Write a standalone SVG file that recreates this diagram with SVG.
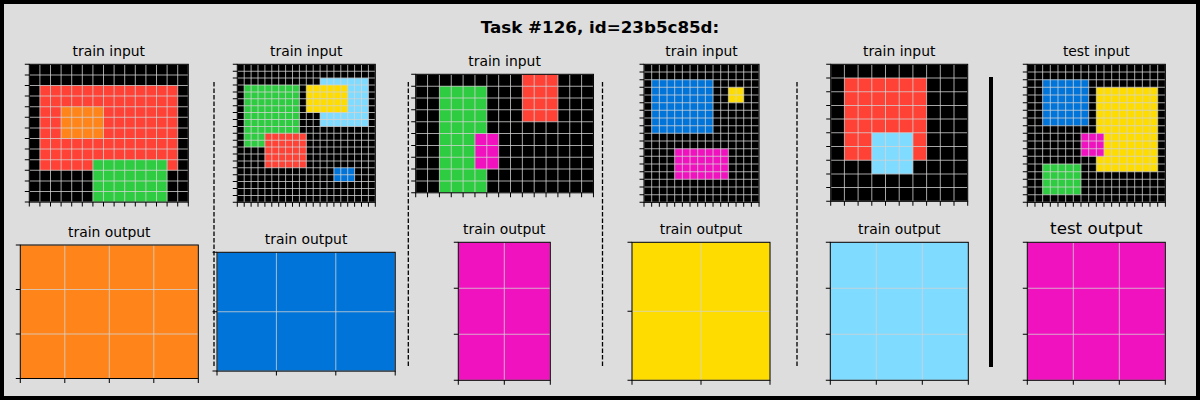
<svg xmlns="http://www.w3.org/2000/svg" width="1200" height="400" viewBox="0 0 1200 400">
<style>
text{font-family:"DejaVu Sans","Liberation Sans",sans-serif;fill:#000;text-anchor:middle}
.t{font-size:13.9px}
.tt{font-size:16.7px}
.h{font-size:16.7px;font-weight:bold}
.gl{stroke:#d3d3d3;stroke-opacity:0.78;fill:none}
.tk{stroke:#000;fill:none;stroke-width:4.5}
.sp{fill:none;stroke:#000;stroke-width:1}
.sep{stroke:#000;stroke-width:1.3;stroke-dasharray:4.5 2;fill:none}
</style>
<rect x="2" y="2" width="1196" height="396" fill="#dddddd" stroke="#000" stroke-width="4"/>
<text class="h" x="600" y="33">Task #126, id=23b5c85d:</text>

<g id="connectors">
<line class="sep" x1="214" y1="82" x2="214" y2="368"/>
<line class="sep" x1="408.3" y1="82" x2="408.3" y2="367"/>
<line class="sep" x1="602.5" y1="82" x2="602.5" y2="367"/>
<line class="sep" x1="797" y1="82" x2="797" y2="367"/>
<line x1="991" y1="77" x2="991" y2="367" stroke="#000" stroke-width="4"/>
</g>

<g id="train1-input">
<text class="t" x="108.8" y="56">train input</text>
<rect x="29.3" y="64.3" width="159" height="137.8" fill="#000"/>
<rect x="39.9" y="85.5" width="137.8" height="84.8" fill="#FF4136"/>
<rect x="61.1" y="106.7" width="42.4" height="31.8" fill="#FF851B"/>
<rect x="92.9" y="159.7" width="74.2" height="42.4" fill="#2ECC40"/>
<line class="gl" x1="28.8" y1="133.2" x2="188.8" y2="133.2" stroke-width="137.8" stroke-dasharray="1 9.6"/>
<line class="gl" x1="108.8" y1="63.8" x2="108.8" y2="202.6" stroke-width="159" stroke-dasharray="1 9.6"/>
<rect class="sp" x="29.3" y="64.3" width="159" height="137.8"/>
<line class="tk" x1="27.05" y1="63.8" x2="27.05" y2="202.6" stroke-dasharray="1 9.6"/>
<line class="tk" x1="28.8" y1="204.35" x2="188.8" y2="204.35" stroke-dasharray="1 9.6"/>
</g>

<g id="train1-output">
<text class="t" x="109.3" y="236.7">train output</text>
<rect x="20.3" y="245" width="178" height="133.5" fill="#FF851B"/>
<line class="gl" x1="19.8" y1="311.75" x2="198.8" y2="311.75" stroke-width="133.5" stroke-dasharray="1 43.5"/>
<line class="gl" x1="109.3" y1="244.5" x2="109.3" y2="379" stroke-width="178" stroke-dasharray="1 43.5"/>
<rect class="sp" x="20.3" y="245" width="178" height="133.5"/>
<line class="tk" x1="18.05" y1="244.5" x2="18.05" y2="379" stroke-dasharray="1 43.5"/>
<line class="tk" x1="19.8" y1="380.75" x2="198.8" y2="380.75" stroke-dasharray="1 43.5"/>
</g>

<g id="train2-input">
<text class="t" x="306.3" y="56">train input</text>
<rect x="237.3" y="64.3" width="138" height="138" fill="#000"/>
<rect x="244.2" y="85" width="55.2" height="62.1" fill="#2ECC40"/>
<rect x="264.9" y="133.3" width="41.4" height="34.5" fill="#FF4136"/>
<rect x="320.1" y="78.1" width="48.3" height="48.3" fill="#7FDBFF"/>
<rect x="306.3" y="85" width="41.4" height="27.6" fill="#FFDC00"/>
<rect x="333.9" y="167.8" width="20.7" height="13.8" fill="#0074D9"/>
<line class="gl" x1="236.8" y1="133.3" x2="375.8" y2="133.3" stroke-width="138" stroke-dasharray="1 5.9"/>
<line class="gl" x1="306.3" y1="63.8" x2="306.3" y2="202.8" stroke-width="138" stroke-dasharray="1 5.9"/>
<rect class="sp" x="237.3" y="64.3" width="138" height="138"/>
<line class="tk" x1="235.05" y1="63.8" x2="235.05" y2="202.8" stroke-dasharray="1 5.9"/>
<line class="tk" x1="236.8" y1="204.55" x2="375.8" y2="204.55" stroke-dasharray="1 5.9"/>
</g>

<g id="train2-output">
<text class="t" x="306.1" y="244">train output</text>
<rect x="217" y="252.3" width="178.2" height="118.8" fill="#0074D9"/>
<line class="gl" x1="216.5" y1="311.7" x2="395.7" y2="311.7" stroke-width="118.8" stroke-dasharray="1 58.4"/>
<line class="gl" x1="306.1" y1="251.8" x2="306.1" y2="371.6" stroke-width="178.2" stroke-dasharray="1 58.4"/>
<rect class="sp" x="217" y="252.3" width="178.2" height="118.8"/>
<line class="tk" x1="214.75" y1="251.8" x2="214.75" y2="371.6" stroke-dasharray="1 58.4"/>
<line class="tk" x1="216.5" y1="373.35" x2="395.7" y2="373.35" stroke-dasharray="1 58.4"/>
</g>

<g id="train3-input">
<text class="t" x="504.6" y="66">train input</text>
<rect x="415.7" y="74.3" width="177.75" height="118.5" fill="#000"/>
<rect x="439.4" y="86.15" width="47.4" height="106.65" fill="#2ECC40"/>
<rect x="474.95" y="133.55" width="23.7" height="35.55" fill="#F012BE"/>
<rect x="522.35" y="74.3" width="35.55" height="47.4" fill="#FF4136"/>
<line class="gl" x1="415.2" y1="133.55" x2="593.95" y2="133.55" stroke-width="118.5" stroke-dasharray="1 10.85"/>
<line class="gl" x1="504.575" y1="73.8" x2="504.575" y2="193.3" stroke-width="177.75" stroke-dasharray="1 10.85"/>
<rect class="sp" x="415.7" y="74.3" width="177.75" height="118.5"/>
<line class="tk" x1="413.45" y1="73.8" x2="413.45" y2="193.3" stroke-dasharray="1 10.85"/>
<line class="tk" x1="415.2" y1="195.05" x2="593.95" y2="195.05" stroke-dasharray="1 10.85"/>
</g>

<g id="train3-output">
<text class="t" x="504.3" y="234">train output</text>
<rect x="458.3" y="242.3" width="92" height="138" fill="#F012BE"/>
<line class="gl" x1="457.8" y1="311.3" x2="550.8" y2="311.3" stroke-width="138" stroke-dasharray="1 45"/>
<line class="gl" x1="504.3" y1="241.8" x2="504.3" y2="380.8" stroke-width="92" stroke-dasharray="1 45"/>
<rect class="sp" x="458.3" y="242.3" width="92" height="138"/>
<line class="tk" x1="456.05" y1="241.8" x2="456.05" y2="380.8" stroke-dasharray="1 45"/>
<line class="tk" x1="457.8" y1="382.55" x2="550.8" y2="382.55" stroke-dasharray="1 45"/>
</g>

<g id="train4-input">
<text class="t" x="701.5" y="56">train input</text>
<rect x="644" y="64.3" width="115.05" height="138.06" fill="#000"/>
<rect x="651.67" y="79.64" width="61.36" height="53.69" fill="#0074D9"/>
<rect x="728.37" y="87.31" width="15.34" height="15.34" fill="#FFDC00"/>
<rect x="674.68" y="148.67" width="53.69" height="30.68" fill="#F012BE"/>
<line class="gl" x1="643.5" y1="133.33" x2="759.55" y2="133.33" stroke-width="138.06" stroke-dasharray="1 6.67"/>
<line class="gl" x1="701.525" y1="63.8" x2="701.525" y2="202.86" stroke-width="115.05" stroke-dasharray="1 6.67"/>
<rect class="sp" x="644" y="64.3" width="115.05" height="138.06"/>
<line class="tk" x1="641.75" y1="63.8" x2="641.75" y2="202.86" stroke-dasharray="1 6.67"/>
<line class="tk" x1="643.5" y1="204.61" x2="759.55" y2="204.61" stroke-dasharray="1 6.67"/>
</g>

<g id="train4-output">
<text class="t" x="701" y="234">train output</text>
<rect x="632" y="242.3" width="138" height="138" fill="#FFDC00"/>
<line class="gl" x1="631.5" y1="311.3" x2="770.5" y2="311.3" stroke-width="138" stroke-dasharray="1 68"/>
<line class="gl" x1="701" y1="241.8" x2="701" y2="380.8" stroke-width="138" stroke-dasharray="1 68"/>
<rect class="sp" x="632" y="242.3" width="138" height="138"/>
<line class="tk" x1="629.75" y1="241.8" x2="629.75" y2="380.8" stroke-dasharray="1 68"/>
<line class="tk" x1="631.5" y1="382.55" x2="770.5" y2="382.55" stroke-dasharray="1 68"/>
</g>

<g id="train5-input">
<text class="t" x="899.2" y="56">train input</text>
<rect x="830.7" y="64.3" width="137" height="137" fill="#000"/>
<rect x="844.4" y="78" width="82.2" height="82.2" fill="#FF4136"/>
<rect x="871.8" y="132.8" width="41.1" height="41.1" fill="#7FDBFF"/>
<line class="gl" x1="830.2" y1="132.8" x2="968.2" y2="132.8" stroke-width="137" stroke-dasharray="1 12.7"/>
<line class="gl" x1="899.2" y1="63.8" x2="899.2" y2="201.8" stroke-width="137" stroke-dasharray="1 12.7"/>
<rect class="sp" x="830.7" y="64.3" width="137" height="137"/>
<line class="tk" x1="828.45" y1="63.8" x2="828.45" y2="201.8" stroke-dasharray="1 12.7"/>
<line class="tk" x1="830.2" y1="203.55" x2="968.2" y2="203.55" stroke-dasharray="1 12.7"/>
</g>

<g id="train5-output">
<text class="t" x="899.3" y="234">train output</text>
<rect x="830.3" y="242.3" width="138" height="138" fill="#7FDBFF"/>
<line class="gl" x1="829.8" y1="311.3" x2="968.8" y2="311.3" stroke-width="138" stroke-dasharray="1 45"/>
<line class="gl" x1="899.3" y1="241.8" x2="899.3" y2="380.8" stroke-width="138" stroke-dasharray="1 45"/>
<rect class="sp" x="830.3" y="242.3" width="138" height="138"/>
<line class="tk" x1="828.05" y1="241.8" x2="828.05" y2="380.8" stroke-dasharray="1 45"/>
<line class="tk" x1="829.8" y1="382.55" x2="968.8" y2="382.55" stroke-dasharray="1 45"/>
</g>

<g id="test-input">
<text class="t" x="1096.3" y="56">test input</text>
<rect x="1027.3" y="64.3" width="138.06" height="138.06" fill="#000"/>
<rect x="1042.64" y="79.64" width="46.02" height="46.02" fill="#0074D9"/>
<rect x="1096.33" y="87.31" width="61.36" height="84.37" fill="#FFDC00"/>
<rect x="1080.99" y="133.33" width="23.01" height="23.01" fill="#F012BE"/>
<rect x="1042.64" y="164.01" width="38.35" height="30.68" fill="#2ECC40"/>
<line class="gl" x1="1026.8" y1="133.33" x2="1165.86" y2="133.33" stroke-width="138.06" stroke-dasharray="1 6.67"/>
<line class="gl" x1="1096.33" y1="63.8" x2="1096.33" y2="202.86" stroke-width="138.06" stroke-dasharray="1 6.67"/>
<rect class="sp" x="1027.3" y="64.3" width="138.06" height="138.06"/>
<line class="tk" x1="1025.05" y1="63.8" x2="1025.05" y2="202.86" stroke-dasharray="1 6.67"/>
<line class="tk" x1="1026.8" y1="204.61" x2="1165.86" y2="204.61" stroke-dasharray="1 6.67"/>
</g>

<g id="test-output">
<text class="tt" x="1096.3" y="234.4">test output</text>
<rect x="1027.3" y="242.3" width="138" height="138" fill="#F012BE"/>
<line class="gl" x1="1026.8" y1="311.3" x2="1165.8" y2="311.3" stroke-width="138" stroke-dasharray="1 45"/>
<line class="gl" x1="1096.3" y1="241.8" x2="1096.3" y2="380.8" stroke-width="138" stroke-dasharray="1 45"/>
<rect class="sp" x="1027.3" y="242.3" width="138" height="138"/>
<line class="tk" x1="1025.05" y1="241.8" x2="1025.05" y2="380.8" stroke-dasharray="1 45"/>
<line class="tk" x1="1026.8" y1="382.55" x2="1165.8" y2="382.55" stroke-dasharray="1 45"/>
</g>
</svg>
